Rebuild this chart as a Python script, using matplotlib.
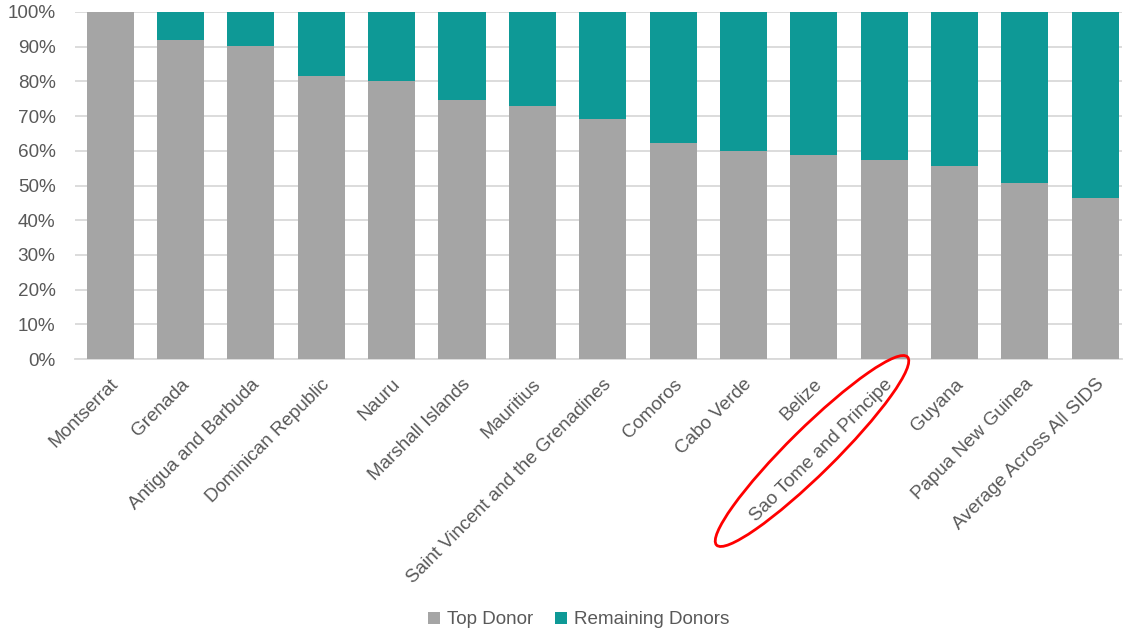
import matplotlib
matplotlib.use("Agg")
import matplotlib.pyplot as plt
from matplotlib.patches import Ellipse
from matplotlib.transforms import IdentityTransform
import numpy as np

categories = ["Montserrat", "Grenada", "Antigua and Barbuda", "Dominican Republic",
              "Nauru", "Marshall Islands", "Mauritius", "Saint Vincent and the Grenadines",
              "Comoros", "Cabo Verde", "Belize", "Sao Tome and Principe", "Guyana",
              "Papua New Guinea", "Average Across All SIDS"]
top_donor = [100.0, 91.9, 90.2, 81.6, 80.1, 74.7, 72.9, 69.2, 62.3, 59.9, 58.8, 57.4, 55.6, 50.8, 46.5]
remaining = [100 - v for v in top_donor]
yticks = list(range(0, 101, 10))

plt.rcParams['font.family'] = ['Liberation Sans', 'DejaVu Sans']

fig = plt.figure(figsize=(11.23, 6.34), dpi=100)
ax = fig.add_axes([75/1123, 1 - 359/634, (1122-75)/1123, (359-12)/634])

gray = "#A5A5A5"
teal = "#0E9996"
fs = 13.6
x = np.arange(len(categories))
w = 0.67
ax.bar(x, top_donor, w, color=gray, label="Top Donor", zorder=3)
ax.bar(x, remaining, w, bottom=top_donor, color=teal, label="Remaining Donors", zorder=3)

ax.set_ylim(0, 100)
ax.set_xlim(-0.5, 14.38)
ax.set_yticks(yticks)
ax.set_yticklabels([f"{t}%" for t in yticks], fontsize=fs, color="#595959")
ax.yaxis.grid(True, color="#D9D9D9", linewidth=1.3, zorder=0)
ax.set_axisbelow(True)
for s in ["top", "right", "left"]:
    ax.spines[s].set_visible(False)
ax.spines["bottom"].set_color("#D9D9D9")
ax.spines["bottom"].set_linewidth(1.3)
ax.tick_params(axis="y", length=0, pad=14)
ax.tick_params(axis="x", length=0, pad=12)
ax.set_xticks(x)
ax.set_xticklabels(categories, rotation=45, ha="right", rotation_mode="anchor",
                   fontsize=fs, color="#595959")

leg = fig.legend(loc="center", bbox_to_anchor=(579/1123, 1 - 620/634), ncol=2, frameon=False,
                 fontsize=fs, handlelength=0.6, handleheight=0.6, handletextpad=0.4,
                 columnspacing=1.15)
for t in leg.get_texts():
    t.set_color("#595959")

ell = Ellipse((812, 634 - 451), width=268, height=46, angle=44.6,
              transform=IdentityTransform(), fill=False, edgecolor="#FF0000", linewidth=2)
fig.patches.append(ell)

fig.savefig("out.png", dpi=100)
